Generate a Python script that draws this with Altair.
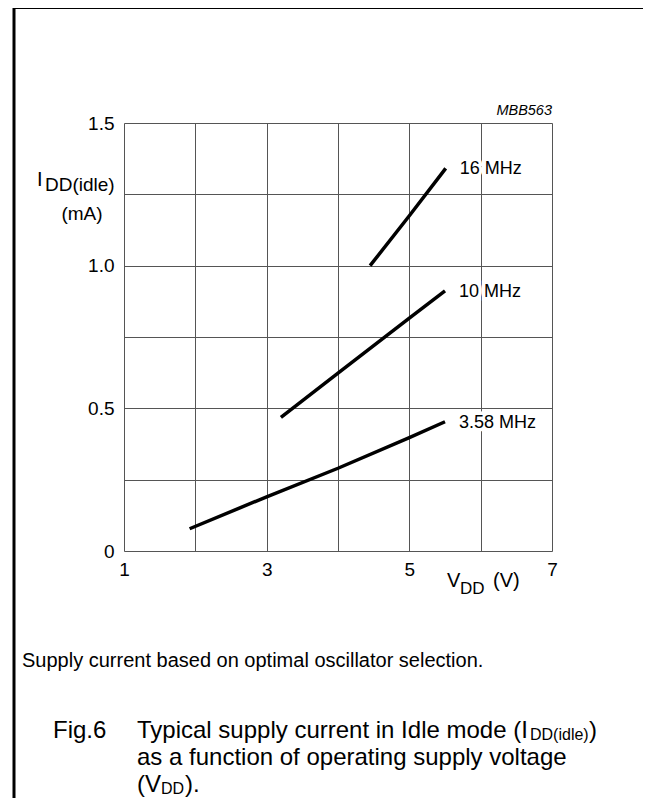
import altair as alt
import pandas as pd

FONT = "Liberation Sans"

# ---- data ----
series = ["3.58 MHz", "10 MHz", "16 MHz"]
vdd_358 = [1.92, 3.0, 4.0, 5.0, 5.5]
idd_358 = [0.078, 0.19, 0.29, 0.397, 0.453]
vdd_10 = [3.2, 4.0, 5.0, 5.5]
idd_10 = [0.468, 0.623, 0.816, 0.912]
vdd_16 = [4.45, 5.0, 5.51]
idd_16 = [1.0, 1.175, 1.341]

x_ticks = [1, 2, 3, 4, 5, 6, 7]
y_ticks = [0, 0.25, 0.5, 0.75, 1.0, 1.25, 1.5]

rows = []
for name, xs, ys in [(series[0], vdd_358, idd_358), (series[1], vdd_10, idd_10), (series[2], vdd_16, idd_16)]:
    for i, (a, b) in enumerate(zip(xs, ys)):
        rows.append({"series": name, "vdd": a, "idd": b, "order": i, "last": i == len(xs) - 1})
df = pd.DataFrame(rows)
ends = df[df["last"]].copy()

W, H = 428, 428

x_enc = alt.X("vdd:Q", scale=alt.Scale(domain=[1, 7], nice=False, zero=False),
              axis=alt.Axis(values=x_ticks, title=None, grid=True, ticks=False, tickSize=0, domain=False,
                            labelExpr="datum.value % 2 == 1 ? format(datum.value, 'd') : ''",
                            labelFont=FONT, labelFontSize=19, labelColor="black", labelPadding=9,
                            gridColor="#555", gridWidth=1, labelFlush=False))
y_enc = alt.Y("idd:Q", scale=alt.Scale(domain=[0, 1.5], nice=False, zero=False),
              axis=alt.Axis(values=y_ticks, title=None, grid=True, ticks=False, tickSize=0, domain=False,
                            labelExpr="datum.value == 0 ? '0' : (datum.value % 0.5 == 0 ? format(datum.value, '.1f') : '')",
                            labelFont=FONT, labelFontSize=19, labelColor="black", labelPadding=10,
                            gridColor="#555", gridWidth=1, labelFlush=False))

lines = alt.Chart(df).mark_line(color="black", strokeWidth=3.5, strokeCap="butt").encode(
    x=x_enc, y=y_enc, detail="series:N", order="order:Q")

halo = alt.Chart(ends).mark_text(align="left", baseline="middle", dx=14, dy=1, font=FONT, fontSize=18,
                                 stroke="white", strokeWidth=7, fill="white").encode(
    x="vdd:Q", y="idd:Q", text="series:N")
labels = alt.Chart(ends).mark_text(align="left", baseline="middle", dx=14, dy=1, font=FONT, fontSize=18,
                                   color="black").encode(
    x="vdd:Q", y="idd:Q", text="series:N")


def txt(t, x, y, size, align="left", baseline="alphabetic", italic=False):
    props = dict(align=align, baseline=baseline, font=FONT, fontSize=size, color="black")
    if italic:
        props["fontStyle"] = "italic"
    return alt.Chart(pd.DataFrame({"t": [t]})).mark_text(**props).encode(
        x=alt.value(x), y=alt.value(y), text="t:N")


# page coords -> plot coords (plot origin at page (124,123))
def P(px, py):
    return px - 124, py - 123


texts = []
texts.append(txt("MBB563", *P(552, 115), 14.5, align="right", italic=True))
# y title
texts.append(txt("I", *P(37, 186), 20))
texts.append(txt("DD(idle)", *P(45, 191), 19))
texts.append(txt("(mA)", *P(82, 214), 19, align="center", baseline="middle"))
# x title
texts.append(txt("V", *P(447, 587), 20))
texts.append(txt("DD", *P(460, 594), 17))
texts.append(txt("(V)", *P(493, 587), 20))
# captions
texts.append(txt("Supply current based on optimal oscillator selection.", *P(22, 667), 20))
texts.append(txt("Fig.6", *P(53, 738), 24))
texts.append(txt("Typical supply current in Idle mode (I", *P(137, 738), 24))
texts.append(txt("DD(idle)", *P(530, 740), 16))
texts.append(txt(")", *P(589, 738), 24))
texts.append(txt("as a function of operating supply voltage", *P(137, 765), 24))
texts.append(txt("(V", *P(137, 792), 24))
texts.append(txt("DD", *P(161, 794), 16))
texts.append(txt(").", *P(185, 792), 24))

border = alt.Chart(pd.DataFrame({"a": [0]})).mark_rect(fillOpacity=0, stroke="black", strokeWidth=3).encode(
    x=alt.value(14 - 124), y=alt.value(7.5 - 123), x2=alt.value(760), y2=alt.value(820))

chart = alt.layer(lines, halo, labels, border, *texts).properties(
    width=W, height=H,
    autosize=alt.AutoSizeParams(type="none"),
    padding={"left": 116, "top": 115, "right": 91, "bottom": 247},
).configure_view(stroke="#555", strokeWidth=1).configure(background="white")

chart.save("out.html", embed_options={"renderer": "svg", "actions": False})
